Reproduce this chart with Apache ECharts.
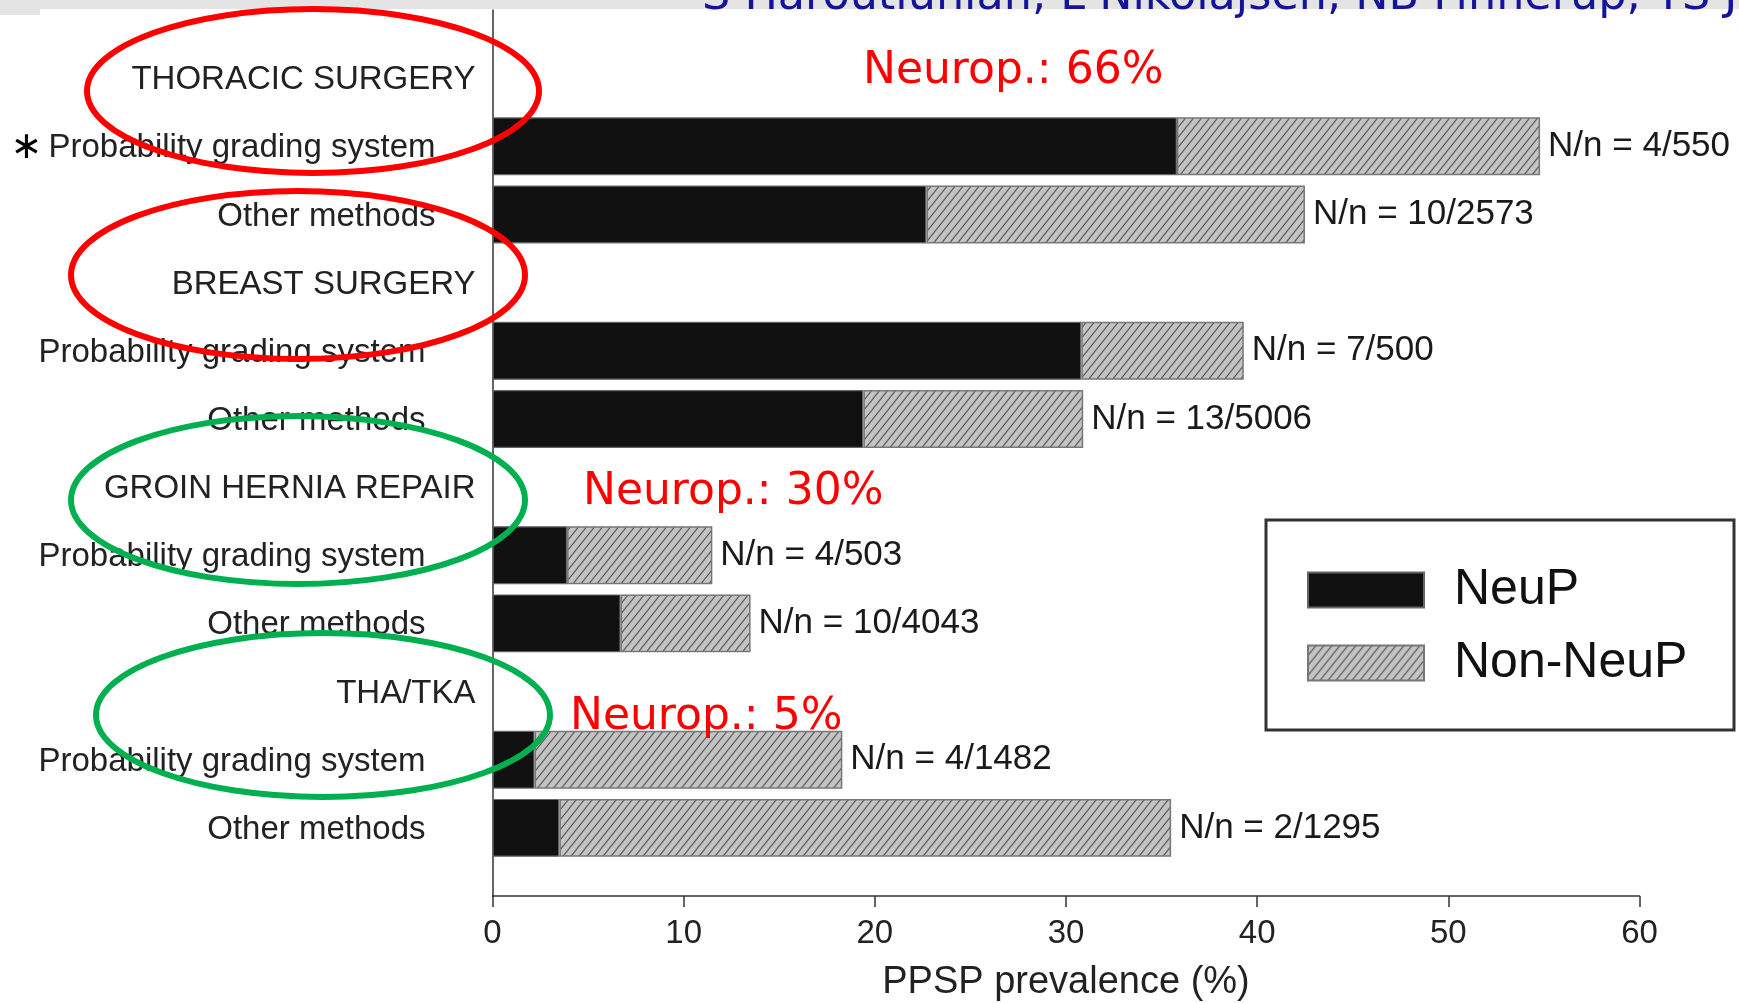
<!DOCTYPE html>
<html><head><meta charset="utf-8">
<script src="https://cdn.jsdelivr.net/npm/echarts@6/dist/echarts.min.js"></script>
<style>html,body{margin:0;padding:0;background:#fff;}#c{width:1739px;height:1003px;}</style>
</head><body><div id="c"></div>
<script>
// ---- data ----
const rowLabels = ['', 'THORACIC SURGERY', 'Probability grading system', 'Other methods',
  'BREAST SURGERY', 'Probability grading system', 'Other methods',
  'GROIN HERNIA REPAIR', 'Probability grading system', 'Other methods',
  'THA/TKA', 'Probability grading system', 'Other methods', ''];
const rowKinds = ['pad', 'head', 'subStar', 'subT', 'head', 'sub', 'sub', 'head', 'sub', 'sub', 'head', 'sub', 'sub', 'pad'];
const neupValues    = [null, null, 35.8, 22.7, null, 30.8, 19.4, null, 3.9, 6.7, null, 2.2, 3.5, null];
const nonNeupValues = [null, null, 19.0, 19.8, null, 8.5, 11.5, null, 7.6, 6.8, null, 16.1, 32.0, null];
const sampleLabels  = [null, null, 'N/n = 4/550', 'N/n = 10/2573', null, 'N/n = 7/500', 'N/n = 13/5006', null,
  'N/n = 4/503', 'N/n = 10/4043', null, 'N/n = 4/1482', 'N/n = 2/1295', null];
const seriesNames = ['NeuP', 'Non-NeuP'];
const axisTitle = 'PPSP prevalence (%)';
const annotationTexts = ['Neurop.: 66%', 'Neurop.: 30%', 'Neurop.: 5%'];
const headerText = 'S Haroutiunian, L Nikolajsen, NB Finnerup, TS Jensen';

// ---- styles ----
function hatch() {
  const w = 8, h = 10;
  const c = document.createElement('canvas'); c.width = w; c.height = h;
  const g = c.getContext('2d');
  g.fillStyle = '#c4c4c4'; g.fillRect(0, 0, w, h);
  g.strokeStyle = '#5c5c5c'; g.lineWidth = 1.2;
  g.beginPath();
  g.moveTo(-1, h + 1.25); g.lineTo(w + 1, -1.25);
  g.moveTo(-w - 1, h + 1.25); g.lineTo(1, -1.25);
  g.moveTo(w - 1, 2 * h + 1.25); g.lineTo(2 * w + 1, h - 1.25);
  g.moveTo(-1, 2 * h + 1.25); g.lineTo(w + 1, h - 1.25);
  g.moveTo(-1, 1.25); g.lineTo(w + 1, -h - 1.25);
  g.stroke();
  return c;
}
const FONT = '"Liberation Sans", Arial, sans-serif';
const chart = echarts.init(document.getElementById('c'), null, {renderer: 'canvas'});

const option = {
  animation: false,
  backgroundColor: '#ffffff',
  textStyle: {fontFamily: FONT},
  grid: {left: 492.5, right: 99.5, top: 10, bottom: 107, containLabel: false, outerBoundsMode: 'none'},
  legend: {
    orient: 'vertical', left: 1307, top: 565, padding: 0,
    itemWidth: 116, itemHeight: 35, itemGap: 23, icon: 'rect',
    textStyle: {fontSize: 50, lineHeight: 50, color: '#111', fontFamily: FONT, padding: [0, 0, 0, 25]},
    data: seriesNames
  },
  xAxis: {
    type: 'value', min: 0, max: 60, interval: 10,
    axisLine: {show: true, lineStyle: {color: '#333', width: 1.5}},
    axisTick: {show: true, length: 11, lineStyle: {color: '#333', width: 1.5}},
    axisLabel: {fontSize: 33, color: '#222', margin: 21, fontFamily: FONT},
    splitLine: {show: false},
    name: axisTitle, nameLocation: 'middle', nameGap: 68,
    nameTextStyle: {fontSize: 38, color: '#222', fontFamily: FONT}
  },
  yAxis: {
    type: 'category', inverse: true, boundaryGap: false,
    data: rowLabels.map((_, i) => 'row' + i),
    axisLine: {show: true, lineStyle: {color: '#333', width: 1.5}},
    axisTick: {show: false},
    splitLine: {show: false},
    axisLabel: {
      interval: 0, margin: 17, color: '#222', fontSize: 33, fontFamily: FONT,
      formatter: (v, i) => {
        const t = rowLabels[i], k = rowKinds[i];
        if (!t) return '';
        if (k === 'head') return '{h|' + t + '}';
        if (k === 'subStar') return '{ast|∗}{st|' + t + '}';
        if (k === 'subT') return '{st|' + t + '}';
        return '{s|' + t + '}';
      },
      rich: {
        h: {fontSize: 33, color: '#222', fontFamily: FONT, padding: [4, 0, 0, 0]},
        st: {fontSize: 33, color: '#222', fontFamily: FONT, padding: [4, 40, 0, 0]},
        s: {fontSize: 33, color: '#222', fontFamily: FONT, padding: [4, 50, 0, 0]},
        ast: {fontSize: 38, color: '#000', fontFamily: '"DejaVu Sans"', padding: [4, 6, 0, 0]}
      }
    }
  },
  series: [
    {
      type: 'bar', name: seriesNames[0], stack: 'total', data: neupValues, barWidth: '85%',
      itemStyle: {color: '#111111', borderColor: '#666', borderWidth: 1.2}
    },
    {
      type: 'bar', name: seriesNames[1], stack: 'total', data: nonNeupValues, barWidth: '85%',
      itemStyle: {color: {image: hatch(), repeat: 'repeat'}, borderColor: '#777', borderWidth: 1.5},
      label: {
        show: true, position: 'right', distance: 8, fontSize: 35, color: '#1a1a1a', fontFamily: FONT,
        padding: [4, 0, 0, 0],
        formatter: p => sampleLabels[p.dataIndex] || ''
      }
    }
  ],
  graphic: [
    {type: 'rect', z: 100, shape: {x: 0, y: 0, width: 1739, height: 9}, style: {fill: '#e4e4e4'}},
    {type: 'rect', z: 100, shape: {x: 0, y: 0, width: 40, height: 15}, style: {fill: '#e4e4e4'}},
    {type: 'text', z: 101, x: 702, y: 20, style: {text: headerText, font: '44.5px "DejaVu Sans"', fill: '#14149a', verticalAlign: 'bottom'}},
    {type: 'ellipse', z: 110, shape: {cx: 313, cy: 91, rx: 226, ry: 82}, style: {fill: 'none', stroke: '#ff0000', lineWidth: 6}},
    {type: 'ellipse', z: 110, shape: {cx: 298, cy: 275, rx: 227, ry: 84}, style: {fill: 'none', stroke: '#ff0000', lineWidth: 6}},
    {type: 'ellipse', z: 110, shape: {cx: 298, cy: 500, rx: 227, ry: 84}, style: {fill: 'none', stroke: '#00b050', lineWidth: 6}},
    {type: 'ellipse', z: 110, shape: {cx: 323, cy: 715, rx: 227, ry: 82}, style: {fill: 'none', stroke: '#00b050', lineWidth: 6}},
    {type: 'text', z: 105, x: 863, y: 72, style: {text: annotationTexts[0], font: '44px "DejaVu Sans"', fill: '#ff0000', verticalAlign: 'middle'}},
    {type: 'text', z: 105, x: 583, y: 493, style: {text: annotationTexts[1], font: '44px "DejaVu Sans"', fill: '#ff0000', verticalAlign: 'middle'}},
    {type: 'text', z: 105, x: 570, y: 718, style: {text: annotationTexts[2], font: '44px "DejaVu Sans"', fill: '#ff0000', verticalAlign: 'middle'}},
    {type: 'rect', z: 90, shape: {x: 1266, y: 520, width: 468, height: 210}, style: {fill: 'none', stroke: '#333', lineWidth: 3}}
  ]
};
chart.setOption(option);
</script>
</body></html>
